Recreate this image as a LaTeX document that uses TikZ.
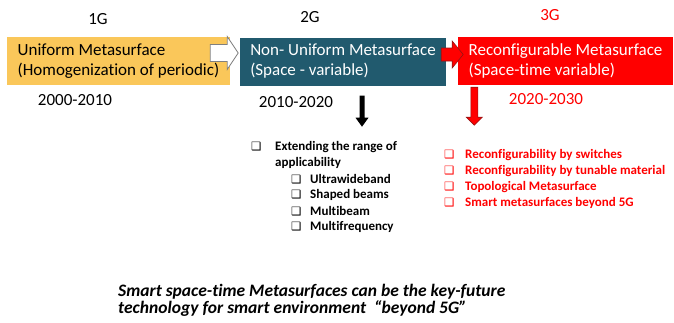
\documentclass[tikz,border=0pt]{standalone}
\usepackage{fontspec}
\setmainfont[Ligatures=NoCommon]{Carlito}
\newfontfamily\symfont{DejaVu Sans}
\usetikzlibrary{calc}
\definecolor{gold}{RGB}{250,199,90}
\definecolor{petrol}{RGB}{33,90,110}
\definecolor{darkred}{RGB}{150,20,20}
\newcommand{\chk}[1]{\makebox[#1][l]{\symfont\fontsize{11.5}{11.5}\selectfont ❑}}
\tikzset{
  box/.style={rectangle,inner xsep=0pt,inner ysep=0pt,minimum height=48pt,align=left,font=\fontsize{17}{20}\selectfont},
  lbl/.style={font=\fontsize{17}{18}\selectfont,inner sep=0pt},
  item/.style={anchor=west,inner sep=0pt,font=\fontsize{13}{14}\selectfont\bfseries},
  fut/.style={anchor=base west,inner sep=0pt,font=\fontsize{17.5}{18}\selectfont\bfseries\itshape},
  arrw/.style={fill=white,draw=gray,line width=0.8pt,line join=miter},
  arrr/.style={fill=red,draw=darkred,line width=0.6pt,line join=miter}
}
\begin{document}
\begin{tikzpicture}[x=1pt,y=-1pt]
    \useasboundingbox [fill=white] (0,0) rectangle (674,322);
    % generations
    \node [box,fill=gold,minimum width=223pt] (unif) at (118.5,61) {Uniform Metasurface\\(Homogenization of periodic)};
    \node [box,fill=petrol,text=white,minimum width=206pt] (nonu) at (343,61.5) {Non- Uniform Metasurface\\(Space - variable)};
    \node [box,fill=red,text=white,minimum width=215pt] (reco) at (565.5,61) {Reconfigurable Metasurface\\(Space-time variable)};
    \node [lbl] (g1) at (98,19) {1G};
    \node [lbl] (g2) at (310,17) {2G};
    \node [lbl,text=red] (g3) at (550,15) {3G};
    \node [lbl] (y1) at (75,100) {2000-2010};
    \node [lbl] (y2) at (296,102) {2010-2020};
    \node [lbl,text=red] (y3) at (546,99) {2020-2030};
    % block arrows
    \draw [arrw] ($(unif.east)+(-20,-16.5)$) -- ++(17,0) -- ++(0,-8) -- ++(11,16.5) -- ++(-11,16.5) -- ++(0,-8) -- ++(-17,0) -- cycle;
    \draw [arrr] ($(nonu.east)+(-5,-13.5)$) -- ++(11,0) -- ++(0,-7) -- ++(11,13.5) -- ++(-11,13.5) -- ++(0,-7) -- ++(-11,0) -- cycle;
    \draw [arrr] ($(reco.south west)+(13,2)$) -- ++(7,0) -- ++(0,30) -- ++(4.5,0) -- ++(-8,8) -- ++(-8,-8) -- ++(4.5,0) -- cycle;
    \fill ($(nonu.south)+(16.5,10)$) -- ++(5,0) -- ++(0,22) -- ++(4,0) -- ++(-6.5,9) -- ++(-6.5,-9) -- ++(4,0) -- cycle;
    % 2G list
    \node [item] (ext) at (251,147) {\chk{24pt}Extending the range of};
    \node [item] (app) at (275,163) {applicability};
    \foreach \txt [count=\i] in {Ultrawideband,Shaped beams,Multibeam,Multifrequency}
        \node [item] (sub\i) at (291,163+16*\i) {\chk{19pt}\txt};
    % 3G list
    \foreach \txt [count=\i] in {Reconfigurability by switches,Reconfigurability by tunable material,Topological Metasurface,Smart metasurfaces beyond 5G}
        \node [item,text=red] (rec\i) at (444,139+16*\i) {\chk{21pt}\txt};
    % conclusion
    \node [fut] (fut1) at (118,296) {Smart space-time Metasurfaces can be the key-future};
    \node [fut] (fut2) at (118,313) {technology for smart environment\ \ “beyond 5G”};
\end{tikzpicture}
\end{document}
